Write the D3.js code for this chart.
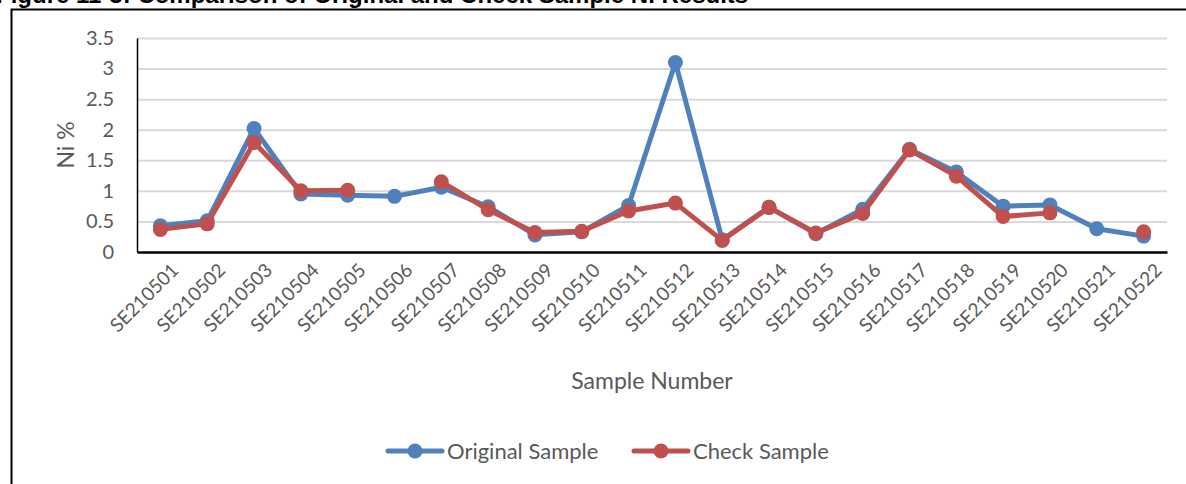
<!DOCTYPE html>
<html>
<head>
<meta charset="utf-8">
<script src="https://cdn.jsdelivr.net/npm/d3@7"></script>
<style>
  body { margin: 0; background: #fff; }
  svg { display: block; font-family: Lato, 'Open Sans', sans-serif; }
  .grid line { stroke: #d9d9d9; stroke-width: 2; }
  .grid path { display: none; }
</style>
</head>
<body>
<div id="canvas"></div>
<script>
const samples = ['SE210501', 'SE210502', 'SE210503', 'SE210504', 'SE210505', 'SE210506', 'SE210507', 'SE210508',
  'SE210509', 'SE210510', 'SE210511', 'SE210512', 'SE210513', 'SE210514', 'SE210515', 'SE210516',
  'SE210517', 'SE210518', 'SE210519', 'SE210520', 'SE210521', 'SE210522'];
const original = [0.43, 0.51, 2.02, 0.95, 0.93, 0.91, 1.06, 0.74, 0.28, 0.33, 0.76, 3.1, 0.2, 0.73, 0.3, 0.7,
  1.68, 1.31, 0.75, 0.77, 0.38, 0.26];
const check = [0.37, 0.46, 1.79, 1.0, 1.01, null, 1.15, 0.69, 0.32, 0.34, 0.67, 0.8, 0.19, 0.73, 0.31, 0.63,
  1.67, 1.24, 0.58, 0.64, null, 0.33];
const yTicks = [0, 0.5, 1, 1.5, 2, 2.5, 3, 3.5];

const w = 1186;
const h = 484;
const padL = 137, padR = 1167, padT = 38, padB = 252;

const svg = d3.select('#canvas').append('svg')
  .attr('width', w)
  .attr('height', h);

// caption sits mostly above the crop, as in the original page
svg.append('text')
  .attr('x', -4)
  .attr('y', 3)
  .style('font-family', "'Liberation Sans', Arial, sans-serif")
  .style('font-weight', 'bold')
  .style('font-size', '24px')
  .attr('fill', '#000')
  .text('Figure 11-3: Comparison of Original and Check Sample Ni Results');

svg.append('path')
  .attr('d', `M11.5,${h} L11.5,9.5 L${w},9.5`)
  .attr('fill', 'none')
  .attr('stroke', '#000')
  .attr('stroke-width', 2);

const xScale = d3.scaleBand()
  .domain(samples)
  .range([padL, padR]);

const yScale = d3.scaleLinear()
  .domain([0, 3.5])
  .range([padB, padT]);

svg.append('g')
  .attr('class', 'grid')
  .attr('transform', `translate(${padL},0)`)
  .call(d3.axisLeft(yScale).tickValues(yTicks.slice(1)).tickSize(-(padR - padL)).tickFormat(''));

const yAxis = svg.append('g')
  .attr('transform', `translate(${padL},0)`)
  .call(d3.axisLeft(yScale).tickValues(yTicks).tickSize(0).tickPadding(23).tickFormat(d3.format('')));
yAxis.select('.domain').attr('stroke', '#000').attr('stroke-width', 1.5);
yAxis.selectAll('text').attr('fill', '#595959').style('font-size', '20px').style('font-family', 'Lato, sans-serif');

const xAxis = svg.append('g')
  .attr('transform', `translate(0,${padB})`)
  .call(d3.axisBottom(xScale).tickSize(0).tickFormat(''));
xAxis.select('.domain').attr('stroke', '#000').attr('stroke-width', 2.5);

svg.append('g').selectAll('text')
  .data(samples)
  .join('text')
  .attr('transform', d => `translate(${xScale(d) + xScale.bandwidth() / 2 + 10},${padB + 10}) rotate(-45)`)
  .attr('text-anchor', 'end')
  .attr('dy', '0.7em')
  .attr('fill', '#595959')
  .style('font-size', '19px')
  .text(d => d);

svg.append('text')
  .attr('x', (padL + padR) / 2)
  .attr('y', 389)
  .attr('text-anchor', 'middle')
  .attr('fill', '#595959')
  .style('font-size', '23px')
  .text('Sample Number');

svg.append('text')
  .attr('transform', `translate(74,${(padT + padB) / 2}) rotate(-90)`)
  .attr('text-anchor', 'middle')
  .attr('fill', '#595959')
  .style('font-size', '23px')
  .text('Ni %');

const series = [
  { name: 'Original Sample', values: original, color: '#4f81bd', lx: 388 },
  { name: 'Check Sample', values: check, color: '#c0504d', lx: 634 }
];

const line = d3.line()
  .defined(d => d.v !== null)
  .x(d => xScale(d.s) + xScale.bandwidth() / 2)
  .y(d => yScale(d.v));

series.forEach(s => {
  const pts = samples.map((name, i) => ({ s: name, v: s.values[i] }));
  svg.append('path')
    .datum(pts)
    .attr('d', line)
    .attr('fill', 'none')
    .attr('stroke', s.color)
    .attr('stroke-width', 5)
    .attr('stroke-linejoin', 'round')
    .attr('stroke-linecap', 'round');
  svg.append('g').selectAll('circle')
    .data(pts.filter(d => d.v !== null))
    .join('circle')
    .attr('cx', d => xScale(d.s) + xScale.bandwidth() / 2)
    .attr('cy', d => yScale(d.v))
    .attr('r', 7.5)
    .attr('fill', s.color);

  // legend
  const lg = svg.append('g').attr('transform', `translate(${s.lx},451)`);
  lg.append('line')
    .attr('x1', 0).attr('x2', 54)
    .attr('stroke', s.color)
    .attr('stroke-width', 5)
    .attr('stroke-linecap', 'round');
  lg.append('circle').attr('cx', 27).attr('r', 7.5).attr('fill', s.color);
  lg.append('text')
    .attr('x', 59)
    .attr('dy', '0.35em')
    .attr('fill', '#595959')
    .style('font-size', '22px')
    .text(s.name);
});
</script>
</body>
</html>
